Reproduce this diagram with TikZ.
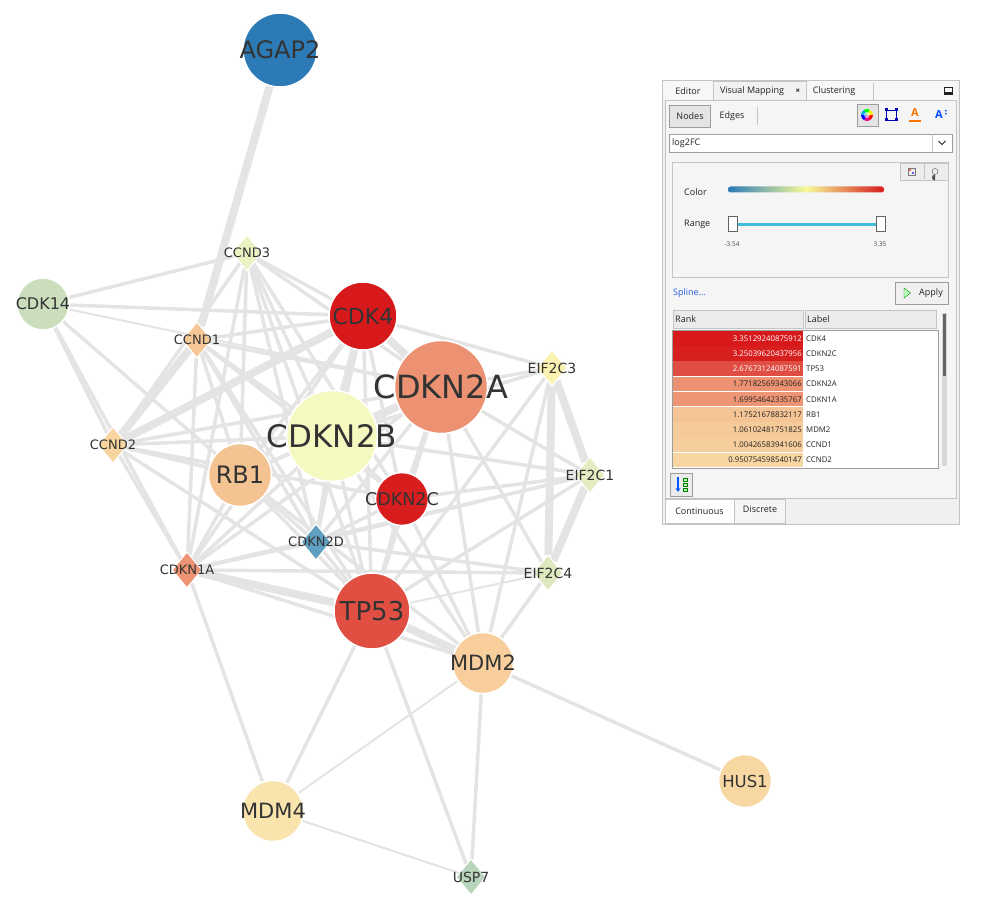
\documentclass[tikz,border=0pt]{standalone}
\usepackage{fontspec}
\setmainfont{DejaVu Sans}
\newfontfamily\uifont{Open Sans}
\usetikzlibrary{shapes.geometric, backgrounds, arrows.meta}

\definecolor{txt}{HTML}{333333}
\definecolor{edge}{HTML}{E4E4E4}
\definecolor{cAGAP2}{HTML}{2C7BB6}
\definecolor{cCDK14}{HTML}{CADDBC}
\definecolor{cCCND3}{HTML}{EAF2C4}
\definecolor{cCCND1}{HTML}{F6C796}
\definecolor{cCDK4}{HTML}{D7191C}
\definecolor{cCDKN2A}{HTML}{EC9273}
\definecolor{cEIF2C3}{HTML}{FBF1B0}
\definecolor{cCCND2}{HTML}{F8D49F}
\definecolor{cCDKN2B}{HTML}{F5F9C0}
\definecolor{cRB1}{HTML}{F4C392}
\definecolor{cCDKN2C}{HTML}{D81D1F}
\definecolor{cEIF2C1}{HTML}{E3EBC1}
\definecolor{cCDKN2D}{HTML}{619FC0}
\definecolor{cCDKN1A}{HTML}{EE9474}
\definecolor{cEIF2C4}{HTML}{DDE8BF}
\definecolor{cTP53}{HTML}{E04F42}
\definecolor{cMDM2}{HTML}{F7CE9C}
\definecolor{cHUS1}{HTML}{F7D7A2}
\definecolor{cMDM4}{HTML}{F9E4AE}
\definecolor{cUSP7}{HTML}{B8D4BB}
% panel colours
\definecolor{uibg}{HTML}{F0F0F0}
\definecolor{uiline}{HTML}{C4C4C4}
\definecolor{uitxt}{HTML}{222222}
\definecolor{btn}{HTML}{E4E4E4}
\definecolor{slider}{HTML}{41BCDA}
\definecolor{linkblue}{HTML}{2A5DE0}
\definecolor{r1}{HTML}{D7191C}
\definecolor{r2}{HTML}{D81F1F}
\definecolor{r3}{HTML}{E04E43}
\definecolor{r4}{HTML}{EC9272}
\definecolor{r5}{HTML}{EE9575}
\definecolor{r6}{HTML}{F4C494}
\definecolor{r7}{HTML}{F6CB9A}
\definecolor{r8}{HTML}{F6CE9D}
\definecolor{r9}{HTML}{F7D6A3}

\begin{document}
\begin{tikzpicture}[x=1pt, y=-1pt,
        gene/.style={circle, draw=white, line width=1.5pt, inner sep=0pt},
        kin/.style={diamond, draw=white, line width=1pt, inner xsep=7.5pt, inner ysep=9pt, aspect=0.83},
        lbl/.style={font=\fontsize{#1}{#1}\selectfont, text=txt},
        link/.style={draw=edge, line width=3.5pt},
        thin link/.style={draw=edge, line width=2pt},
        thick link/.style={draw=edge, line width=8pt},
        ui/.style={font=\uifont\fontsize{9}{10}\selectfont, text=uitxt, inner sep=0pt},
        cell/.style={font=\uifont\fontsize{7.8}{9}\selectfont, inner sep=0pt}
    ]
        \useasboundingbox (0,0) rectangle (1000,909);

        % genes
        \node[gene, fill=cAGAP2, minimum size=74pt, label={[lbl=24]center:AGAP2}] (agap2) at (280,50) {};
        \node[gene, fill=cCDK14, minimum size=52pt, label={[lbl=16]center:CDK14}] (cdk14) at (43,304) {};
        \node[gene, fill=cCDK4, minimum size=68pt, label={[lbl=22]center:CDK4}] (cdk4) at (363,316) {};
        \node[gene, fill=cCDKN2A, minimum size=93pt, label={[lbl=32]center:CDKN2A}] (cdkn2a) at (441,387) {};
        \node[gene, fill=cCDKN2B, minimum size=91pt, label={[lbl=31]center:CDKN2B}] (cdkn2b) at (332,436) {};
        \node[gene, fill=cRB1, minimum size=63pt, label={[lbl=24]center:RB1}] (rb1) at (240,475) {};
        \node[gene, fill=cCDKN2C, minimum size=53pt, label={[lbl=17.5]center:CDKN2C}] (cdkn2c) at (402,499) {};
        \node[gene, fill=cTP53, minimum size=76pt, label={[lbl=26]center:TP53}] (tp53) at (372,611) {};
        \node[gene, fill=cMDM2, minimum size=61pt, label={[lbl=21]center:MDM2}] (mdm2) at (483,663) {};
        \node[gene, fill=cMDM4, minimum size=61pt, label={[lbl=21]center:MDM4}] (mdm4) at (273,811) {};
        \node[gene, fill=cHUS1, minimum size=53pt, label={[lbl=16.5]center:HUS1}] (hus1) at (745,781) {};

        \node[kin, fill=cCCND3, label={[lbl=13]center:CCND3}] (ccnd3) at (247,253) {};
        \node[kin, fill=cCCND1, label={[lbl=13]center:CCND1}] (ccnd1) at (197,340) {};
        \node[kin, fill=cCCND2, label={[lbl=13]center:CCND2}] (ccnd2) at (113,445) {};
        \node[kin, fill=cEIF2C3, label={[lbl=14]center:EIF2C3}] (eif2c3) at (552,368) {};
        \node[kin, fill=cEIF2C1, label={[lbl=14]center:EIF2C1}] (eif2c1) at (590,475) {};
        \node[kin, fill=cEIF2C4, label={[lbl=14]center:EIF2C4}] (eif2c4) at (548,573) {};
        \node[kin, fill=cCDKN2D, label={[lbl=13]center:CDKN2D}] (cdkn2d) at (316,542) {};
        \node[kin, fill=cCDKN1A, label={[lbl=13]center:CDKN1A}] (cdkn1a) at (187,570) {};
        \node[kin, fill=cUSP7, label={[lbl=14]center:USP7}] (usp7) at (471,877) {};

        % interactions
        \begin{scope}[on background layer]
            \foreach \a/\b in {agap2/ccnd1, ccnd1/ccnd2, ccnd2/cdk4, cdk4/cdkn2a, cdkn2a/cdkn2b,
                    cdk4/cdkn2b, tp53/mdm2, tp53/cdkn1a, eif2c3/eif2c1, eif2c3/eif2c4, eif2c1/eif2c4}
                \draw[thick link] (\a) -- (\b);
            \foreach \a/\b in {cdk14/ccnd3, cdk14/cdk4, cdk14/ccnd2, cdk14/cdkn1a, cdk14/rb1,
                    ccnd3/cdk4, ccnd3/cdkn2a, ccnd3/cdkn2b, ccnd3/rb1, ccnd3/cdkn1a, ccnd3/cdkn2c,
                    ccnd3/tp53, ccnd3/cdkn2d, ccnd3/ccnd2,
                    ccnd1/cdk4, ccnd1/cdkn2a, ccnd1/cdkn2b, ccnd1/rb1, ccnd1/cdkn1a, ccnd1/cdkn2d,
                    ccnd1/tp53, ccnd1/cdkn2c,
                    ccnd2/cdkn2a, ccnd2/cdkn2b, ccnd2/rb1, ccnd2/cdkn1a, ccnd2/cdkn2c, ccnd2/tp53,
                    cdk4/rb1, cdk4/cdkn1a, cdk4/cdkn2d, cdk4/tp53, cdk4/eif2c3, cdk4/cdkn2c,
                    cdkn2a/rb1, cdkn2a/cdkn2c, cdkn2a/cdkn1a, cdkn2a/tp53, cdkn2a/mdm2, cdkn2a/eif2c3,
                    cdkn2a/eif2c1, cdkn2a/eif2c4, cdkn2a/cdkn2d,
                    cdkn2b/rb1, cdkn2b/cdkn2c, cdkn2b/cdkn2d, cdkn2b/cdkn1a, cdkn2b/tp53, cdkn2b/mdm2,
                    cdkn2b/eif2c3, cdkn2b/eif2c1,
                    rb1/cdkn2d, rb1/cdkn1a, rb1/tp53, rb1/mdm2,
                    cdkn2c/tp53, cdkn2c/eif2c1, cdkn2c/cdkn2d, cdkn2c/mdm2,
                    cdkn1a/cdkn2d, cdkn1a/eif2c1, cdkn1a/mdm2, cdkn1a/mdm4,
                    tp53/eif2c3, tp53/eif2c1, tp53/mdm4, tp53/usp7, tp53/cdkn2d,
                    mdm2/eif2c3, mdm2/eif2c4, mdm2/usp7, mdm2/hus1,
                    eif2c4/cdkn2d, eif2c4/cdkn1a}
                \draw[link] (\a) -- (\b);
            \foreach \a/\b in {cdk14/cdkn2a, mdm2/mdm4, mdm4/usp7, eif2c4/tp53, eif2c1/cdkn2d}
                \draw[thin link] (\a) -- (\b);
        \end{scope}

        % side panel
        \draw[uiline, fill=uibg] (662,80) rectangle (959,524);
        \fill[white!97!black] (663,81) rectangle (958,100);
        \draw[uiline, fill=white!95!black] (713,81) rectangle (806,100);
        \draw[uiline] (806,83) -- (806,100) (873,83) -- (873,100);
        \node[ui] (tabedit) at (688,91) {Editor};
        \node[ui] (tabvis) at (752,91) {Visual Mapping};
        \node[ui, font=\uifont\bfseries\fontsize{8}{9}\selectfont] (tabx) at (798,91) {×};
        \node[ui] (tabclu) at (834,91) {Clustering};
        \draw[uitxt] (944,87) rectangle (952,94);
        \fill[uitxt] (944,92) rectangle (952,94);
        \draw[uiline, fill=white!96!black] (665,100) rectangle (956,498);

        \draw[uiline!80!black, fill=btn] (669,105) rectangle (710,127);
        \node[ui] (nodesbtn) at (690,116) {Nodes};
        \node[ui] (edgesbtn) at (732,116) {Edges};
        \draw[uiline] (757,107) -- (757,125);
        \draw[uiline!80!black, fill=btn] (857,104) rectangle (878,126);
        \foreach \ang/\col in {0/red, 60/magenta, 120/blue, 180/cyan, 240/green, 300/yellow}
            \fill[\col] (867,115) -- ++(\ang:6) arc[start angle=\ang, end angle=\ang+60, radius=6] -- cycle;
        \fill[white, opacity=0.6] (867,115) circle (3);
        \draw[blue!70!black, line width=0.8pt] (886,110) rectangle (896,120);
        \foreach \px/\py in {886/110, 896/110, 886/120, 896/120}
            \fill[blue!70!black] (\px-1.5,\py-1.5) rectangle (\px+1.5,\py+1.5);
        \node[ui, font=\uifont\bfseries\fontsize{11}{12}\selectfont, text=orange!90!red] (fontcol) at (915,113) {A};
        \fill[orange!90!red] (909,120) rectangle (921,122.5);
        \node[ui, font=\uifont\bfseries\fontsize{11}{12}\selectfont, text=blue!70!cyan] (fontsize) at (939,115) {A};
        \fill[blue!70!cyan] (945,110) rectangle (946.5,111.5) (945,113) rectangle (946.5,114.5);

        \draw[uiline!80!black, fill=white] (669,134) rectangle (952,152);
        \draw[uiline] (932,134) -- (932,152);
        \node[ui, anchor=west] (attr) at (672,143) {log2FC};
        \draw[uitxt, line width=1pt] (938.5,141) -- (942,144.5) -- (945.5,141);

        \draw[uiline, fill=white!96!black] (672,162) rectangle (948,277);
        \draw[uiline, fill=white!93!black] (900,163) rectangle (948,180);
        \draw[uiline] (924,164) -- (924,179);
        \draw[uitxt!60] (908,168) rectangle (915,175);
        \fill[red!60] (909,169) rectangle (911,171);
        \fill[blue!60] (912,172) rectangle (914,174);
        \fill[uitxt!80] (935,174.5) arc[start angle=270, end angle=90, radius=3] -- cycle;
        \draw[uitxt!80] (935,171.5) circle (3);

        \node[ui, anchor=west] (colorlbl) at (684,192) {Color};
        \shade[left color=cAGAP2, right color=cCDK4, middle color=cCDKN2B!80!yellow, rounded corners=2.5pt]
            (728,186.5) rectangle (884,192.5);
        \node[ui, anchor=west] (rangelbl) at (684,224) {Range};
        \fill[slider] (733,223.5) rectangle (880,226.5);
        \foreach \hx in {728, 876}
            \draw[uitxt!70, fill=white] (\hx,216) rectangle (\hx+9,231);
        \node[ui, font=\uifont\fontsize{6.5}{8}\selectfont, text=uitxt!80] (rmin) at (732,244) {-3.54};
        \node[ui, font=\uifont\fontsize{6.5}{8}\selectfont, text=uitxt!80] (rmax) at (880,244) {3.35};

        \node[ui, anchor=west, text=linkblue] (spline) at (673,293) {Spline...};
        \draw[uiline!80!black, fill=white!94!black] (895,282) rectangle (948,304);
        \draw[green!55!black, fill=green!25] (904,288) -- (910.5,293) -- (904,298) -- cycle;
        \node[ui] (apply) at (931,293) {Apply};

        % value table
        \draw[uiline, fill=white!92!black] (673,310) rectangle (803,328);
        \draw[uiline, fill=white!92!black] (805,310) rectangle (936,328);
        \node[ui, anchor=west] (rankhd) at (675,319) {Rank};
        \node[ui, anchor=west] (labelhd) at (807,319) {Label};
        \draw[uiline!80!black, fill=white] (672,330) rectangle (938,468);
        \fill[white!85!black] (942,313) rectangle (947,466);
        \fill[uitxt!70] (943,314) rectangle (946,376);
        \foreach \v/\g/\c/\t [count=\i from 0] in {
                3.35129240875912/CDK4/r1/white, 3.25039620437956/CDKN2C/r2/white,
                2.67673124087591/TP53/r3/white, 1.77182569343066/CDKN2A/r4/uitxt,
                1.69954642335767/CDKN1A/r5/uitxt, 1.17521678832117/RB1/r6/uitxt,
                1.06102481751825/MDM2/r7/uitxt, 1.00426583941606/CCND1/r8/uitxt,
                0.950754598540147/CCND2/r9/uitxt} {
            \fill[\c] (673,331+15.2*\i) rectangle (803,330.5+15.2*\i+15);
            \node[cell, anchor=east, text=\t] (rank\i) at (802,338.5+15.2*\i) {\v};
            \node[cell, anchor=west, text=uitxt] (gene\i) at (806,338.5+15.2*\i) {\g};
        }

        \draw[uiline!80!black, fill=white!92!black] (670,473) rectangle (692,496);
        \draw[blue!65!cyan, line width=1.5pt, -{Stealth[length=4pt, width=5pt]}] (678,477) -- (678,492);
        \foreach \sy in {478, 483, 488}
            \draw[green!50!black, fill=green!30] (683,\sy) rectangle (687,\sy+3);

        \draw[uiline, fill=white] (665,499) rectangle (734,523);
        \draw[uiline, fill=white!96!black] (734,499) rectangle (785,523);
        \node[ui] (tabcont) at (699.5,511) {Continuous};
        \node[ui] (tabdisc) at (760,509) {Discrete};
    \end{tikzpicture}
\end{document}
